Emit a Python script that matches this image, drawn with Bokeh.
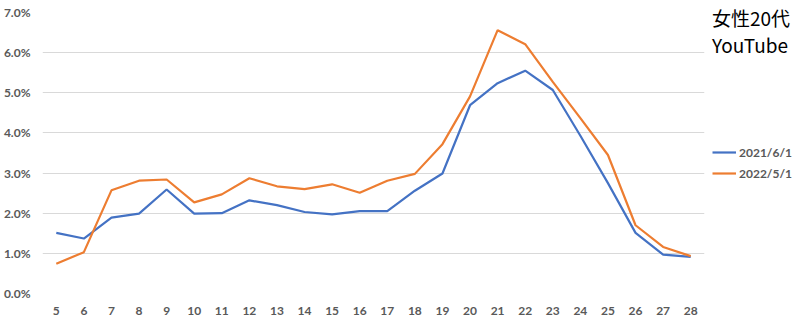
from bokeh.plotting import figure
from bokeh.models import ColumnDataSource, NumeralTickFormatter, Legend, LegendItem, FactorRange, Range1d
from bokeh.embed import file_html
from bokeh.resources import INLINE

ages = [str(a) for a in range(5, 29)]
series_2021 = [1.51, 1.37, 1.89, 1.99, 2.59, 1.99, 2.00, 2.32, 2.20, 2.03, 1.97, 2.05, 2.05,
               2.56, 2.99, 4.69, 5.24, 5.55, 5.07, 3.93, 2.75, 1.51, 0.97, 0.91]
series_2022 = [0.74, 1.03, 2.57, 2.81, 2.84, 2.27, 2.47, 2.87, 2.67, 2.60, 2.72, 2.51, 2.81,
               2.98, 3.72, 4.91, 6.56, 6.21, 5.27, 4.37, 3.45, 1.70, 1.16, 0.93]
label_2021 = "2021/6/1"
label_2022 = "2022/5/1"
title_text = "女性20代\nYouTube"
y_ticks = [0.0, 0.01, 0.02, 0.03, 0.04, 0.05, 0.06, 0.07]

source = ColumnDataSource(dict(
    age=ages,
    s2021=[v / 100 for v in series_2021],
    s2022=[v / 100 for v in series_2022],
))

p = figure(frame_width=662, frame_height=281, x_range=FactorRange(*ages), y_range=Range1d(0, 0.07),
           output_backend="svg", toolbar_location=None,
           min_border_left=36, min_border_right=86, min_border_top=12, min_border_bottom=20)
p.outline_line_color = None
p.xgrid.grid_line_color = None
p.ygrid.grid_line_color = "#d9d9d9"
p.ygrid.grid_line_width = 1
p.yaxis.ticker = y_ticks
p.yaxis.formatter = NumeralTickFormatter(format="0.0%")

for ax in (p.xaxis, p.yaxis):
    ax.axis_line_color = None
    ax.major_tick_line_color = None
    ax.minor_tick_line_color = None
    ax.major_tick_out = 0
    ax.major_tick_in = 0
    ax.major_label_text_font = "Lato"
    ax.major_label_text_font_style = "bold"
    ax.major_label_text_font_size = "12px"
    ax.major_label_text_color = "#595959"
p.xaxis.major_label_standoff = 13
p.yaxis.major_label_standoff = 12

r1 = p.line("age", "s2021", source=source, line_color="#4472C4", line_width=2.2)
r2 = p.line("age", "s2022", source=source, line_color="#ED7D31", line_width=2.2)

legend = Legend(items=[LegendItem(label=label_2021, renderers=[r1]),
                       LegendItem(label=label_2022, renderers=[r2])],
                location=(8, 112), margin=0, padding=0, spacing=5,
                glyph_width=24, glyph_height=16, label_height=16, label_standoff=3,
                border_line_color=None, background_fill_alpha=0,
                label_text_font="Lato", label_text_font_style="bold",
                label_text_font_size="12px", label_text_color="#595959",
                title=title_text, title_text_font="Noto Sans CJK JP",
                title_text_font_size="19px", title_text_font_style="normal",
                title_text_line_height=1.15,
                title_text_color="#000000", title_standoff=86)
p.add_layout(legend, "right")

open("out.html", "w").write(file_html(p, INLINE))
